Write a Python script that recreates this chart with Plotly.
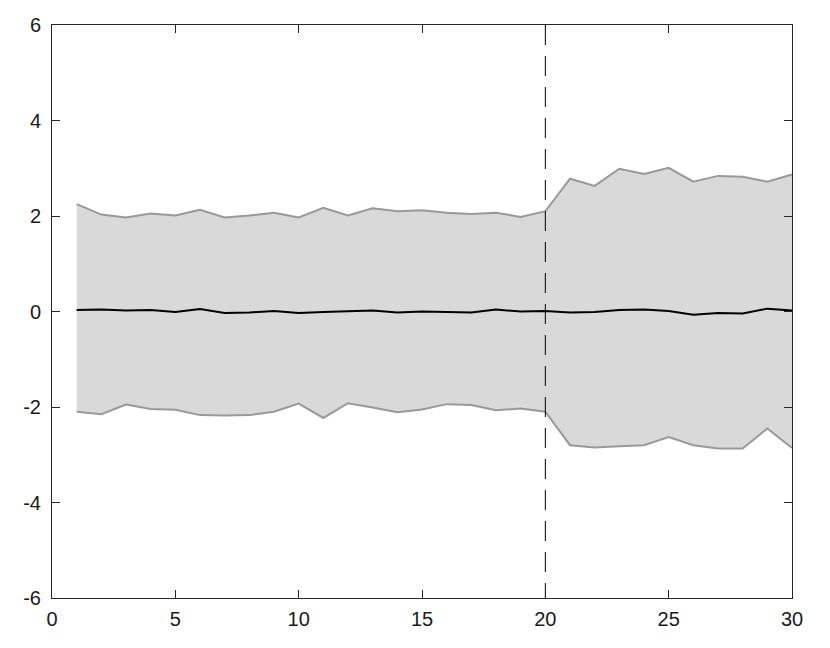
import plotly.graph_objects as go

steps = list(range(1, 31))
upper = [2.25, 2.03, 1.97, 2.05, 2.01, 2.13, 1.97, 2.01, 2.07, 1.97,
         2.17, 2.01, 2.16, 2.10, 2.12, 2.07, 2.04, 2.07, 1.98, 2.10,
         2.78, 2.63, 2.99, 2.88, 3.01, 2.72, 2.84, 2.82, 2.72, 2.87]
lower = [-2.10, -2.15, -1.95, -2.04, -2.06, -2.17, -2.18, -2.17, -2.10, -1.93,
         -2.23, -1.92, -2.01, -2.11, -2.05, -1.94, -1.96, -2.07, -2.03, -2.10,
         -2.80, -2.85, -2.82, -2.80, -2.63, -2.80, -2.87, -2.87, -2.45, -2.86]
mean = [0.03, 0.04, 0.02, 0.03, -0.01, 0.05, -0.03, -0.02, 0.01, -0.03,
        -0.01, 0.00, 0.02, -0.02, 0.00, -0.01, -0.02, 0.04, 0.00, 0.01,
        -0.02, -0.01, 0.03, 0.04, 0.01, -0.07, -0.03, -0.04, 0.06, 0.02]
break_x = 20
x_ticks = [0, 5, 10, 15, 20, 25, 30]
y_ticks = [-6, -4, -2, 0, 2, 4, 6]
y_tick_text = ["-6", "-4", "-2", "0", "2", "4", "6"]

fig = go.Figure()
fig.add_trace(go.Scatter(
    x=steps + steps[::-1], y=upper + lower[::-1],
    fill="toself", fillcolor="#d9d9d9", mode="none",
    hoverinfo="skip", showlegend=False))
fig.add_trace(go.Scatter(x=steps, y=upper, mode="lines",
                         line=dict(color="#999999", width=2), showlegend=False))
fig.add_trace(go.Scatter(x=steps, y=lower, mode="lines",
                         line=dict(color="#999999", width=2), showlegend=False))
fig.add_trace(go.Scatter(x=steps, y=mean, mode="lines",
                         line=dict(color="#000000", width=2), showlegend=False))
fig.add_trace(go.Scatter(x=[break_x, break_x], y=[y_ticks[-1], y_ticks[0]], mode="lines",
                         line=dict(color="#000000", width=1, dash="20px,11px"),
                         showlegend=False))

axis_common = dict(
    showline=True, linecolor="#262626", linewidth=1, mirror="ticks",
    ticks="inside", ticklen=8, tickcolor="#262626", tickwidth=1,
    showgrid=False, zeroline=False, automargin=False,
    tickfont=dict(family="Liberation Sans, Arial, sans-serif", size=20, color="#1a1a1a"),
)
fig.update_xaxes(range=[0, 30], tickvals=x_ticks, ticklabelstandoff=3, **axis_common)
fig.update_yaxes(range=[-6, 6], tickvals=y_ticks, ticktext=y_tick_text,
                 ticklabelstandoff=6, **axis_common)
fig.update_layout(
    width=830, height=648,
    margin=dict(l=44, r=46, t=17, b=58),
    plot_bgcolor="white", paper_bgcolor="white",
)
fig.write_html("out.html")
